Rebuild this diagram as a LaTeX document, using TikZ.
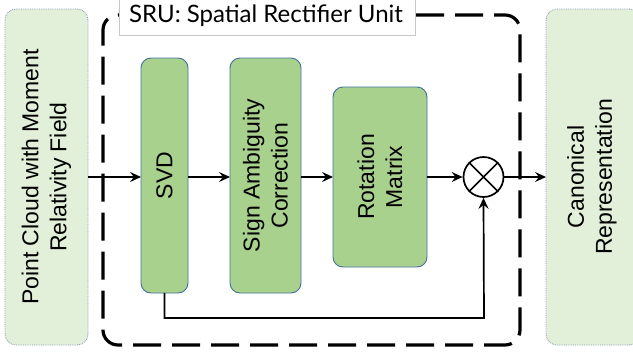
\documentclass[tikz,border=0pt]{standalone}
\usepackage{fontspec}
\setmainfont{Liberation Sans}
\newfontfamily\titlefont{Lato}
\usetikzlibrary{arrows.meta,positioning,calc}
\definecolor{lightgreen}{HTML}{E2F0D9}
\definecolor{midgreen}{HTML}{A9D18E}
\definecolor{boxblue}{HTML}{41719C}
\definecolor{dotblue}{HTML}{8497B0}
\definecolor{titlegray}{HTML}{C8C8C8}
\tikzset{
  iobox/.style={draw=dotblue, densely dotted, line width=0.8pt, fill=lightgreen, rounded corners=11pt},
  stagebox/.style={draw=boxblue, line width=0.9pt, fill=midgreen, rounded corners=10pt},
  lbl/.style={font=\fontsize{23}{28}\selectfont, align=center, rotate=90, inner sep=0pt},
  flow/.style={line width=1.7pt, -{Stealth[length=11pt,width=10pt,inset=4pt]}},
  unitframe/.style={line width=3.2pt, dash pattern=on 28pt off 11pt, rounded corners=15pt},
}
\begin{document}
\begin{tikzpicture}[x=1pt,y=-1pt]
  \useasboundingbox (0,0) rectangle (633,354);
  % input and output blocks
  \draw[iobox] (5,9) rectangle (88,345);
  \node[lbl] (in) at (46.5,177) {Point Cloud with Moment\\Relativity Field};
  \coordinate (inE) at (88,177);
  \draw[iobox] (546,9) rectangle (640,345);
  \node[lbl] (out) at (592,177) {Canonical\\Representation};
  \coordinate (outW) at (546,177);
  % dashed frame of the unit
  \draw[unitframe] (260,15) -- (520,15) -- (520,345) -- (103,345) -- (103,15) -- (260,15);
  % title tab
  \filldraw[draw=titlegray, fill=white, line width=0.7pt] (119,-2) rectangle (415,35);
  \node[font=\titlefont\fontsize{24}{28}\selectfont, anchor=center] (title) at (266,16) {SRU: Spatial Rectifier Unit};
  % processing stages
  \draw[stagebox] (141,58) rectangle (188,293);
  \node[lbl] (svd) at (164.5,175.5) {SVD};
  \draw[stagebox] (230,58) rectangle (301,293);
  \node[lbl] (sign) at (265.5,175.5) {Sign Ambiguity\\Correction};
  \draw[stagebox] (333,87) rectangle (427,267);
  \node[lbl] (rot) at (380,177) {Rotation\\Matrix};
  % product node
  \node[circle, draw, line width=1.7pt, minimum size=40pt, inner sep=0pt] (mul) at (483.5,177) {};
  \draw[line width=1.6pt] (mul.north west) -- (mul.south east) (mul.north east) -- (mul.south west);
  % connectors
  \coordinate (svdW) at (141,177);
  \coordinate (svdE) at (188,177);
  \coordinate (signW) at (230,177);
  \coordinate (signE) at (301,177);
  \coordinate (rotW) at (333,177);
  \coordinate (rotE) at (427,177);
  \coordinate (svdS) at (164.5,293);
  \draw[flow] (inE) -- (svdW);
  \draw[flow] (svdE) -- (signW);
  \draw[flow] (signE) -- (rotW);
  \draw[flow] (rotE) -- (mul.west);
  \draw[flow] (mul.east) -- (outW);
  \draw[flow] (svdS) |- (484,318) -- (mul.south);
\end{tikzpicture}
\end{document}
